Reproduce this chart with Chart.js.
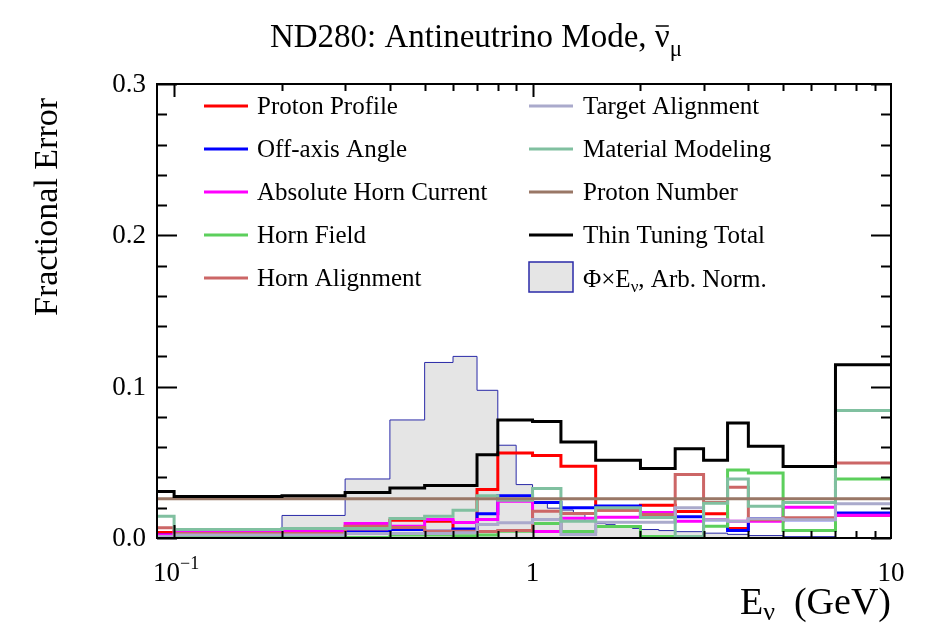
<!DOCTYPE html>
<html>
<head>
<meta charset="utf-8">
<script src="https://cdn.jsdelivr.net/npm/chart.js@4.4.0/dist/chart.umd.min.js"></script>
<style>
html, body { margin: 0; padding: 0; background: #fff; }
#wrap { width: 925px; height: 625px; }
</style>
</head>
<body>
<div id="wrap"><canvas id="c" width="925" height="625"></canvas></div>
<script>
// bin edges (GeV) of the systematic histograms, first bin starts off-axis
var binEdges = [0.05, 0.1, 0.2, 0.3, 0.4, 0.5, 0.6, 0.7, 0.8, 0.9, 1.0, 1.2, 1.5, 2.0, 2.5, 3.0, 3.5, 4.0, 5.0, 7.0, 10.0];

var protonProfile   = [0.0036, 0.0022, 0.0022, 0.0060, 0.0118, 0.0110, 0.0045, 0.0320, 0.0562, 0.0562, 0.0545, 0.0474, 0.0185, 0.0216, 0.0175, 0.0160, 0.0063, 0.0120, 0.0122, 0.0150];
var offAxisAngle    = [0.0020, 0.0022, 0.0022, 0.0040, 0.0056, 0.0045, 0.0060, 0.0160, 0.0280, 0.0280, 0.0234, 0.0200, 0.0212, 0.0150, 0.0140, 0.0120, 0.0050, 0.0127, 0.0120, 0.0166];
var hornCurrent     = [0.0020, 0.0045, 0.0045, 0.0096, 0.0078, 0.0122, 0.0102, 0.0122, 0.0243, 0.0243, 0.0043, 0.0130, 0.0137, 0.0168, 0.0110, 0.0122, 0.0110, 0.0110, 0.0203, 0.0150];
var hornField       = [0.0010, 0.0012, 0.0012, 0.0004, 0.0020, 0.0020, 0.0015, 0.0020, 0.0045, 0.0045, 0.0095, 0.0043, 0.0076, 0.0010, 0.0010, 0.0078, 0.0450, 0.0430, 0.0050, 0.0390];
var hornAlignment   = [0.0067, 0.0030, 0.0030, 0.0078, 0.0070, 0.0045, 0.0045, 0.0043, 0.0050, 0.0050, 0.0177, 0.0162, 0.0184, 0.0155, 0.0420, 0.0234, 0.0335, 0.0120, 0.0133, 0.0496];
var targetAlignment = [0.0010, 0.0020, 0.0020, 0.0030, 0.0030, 0.0030, 0.0035, 0.0089, 0.0100, 0.0100, 0.0122, 0.0023, 0.0104, 0.0104, 0.0200, 0.0120, 0.0110, 0.0127, 0.0120, 0.0226];
var materialModel   = [0.0144, 0.0056, 0.0063, 0.0063, 0.0129, 0.0144, 0.0184, 0.0280, 0.0250, 0.0250, 0.0327, 0.0110, 0.0200, 0.0135, 0.0010, 0.0230, 0.0390, 0.0210, 0.0234, 0.0843];
var protonNumber    = [0.0260, 0.0260, 0.0260, 0.0260, 0.0260, 0.0260, 0.0260, 0.0260, 0.0260, 0.0260, 0.0260, 0.0260, 0.0260, 0.0260, 0.0260, 0.0260, 0.0260, 0.0260, 0.0260, 0.0260];
var thinTuningTotal = [0.0307, 0.0274, 0.0280, 0.0300, 0.0331, 0.0347, 0.0347, 0.0550, 0.0780, 0.0780, 0.0769, 0.0635, 0.0513, 0.0459, 0.0590, 0.0514, 0.0760, 0.0606, 0.0472, 0.1145];

// flux x energy, arbitrary normalisation, finer binning
var fluxEdges  = [0.05, 0.1, 0.2, 0.3, 0.4, 0.5, 0.6, 0.7, 0.8, 0.9, 1.0, 1.1, 1.2, 1.3, 1.4, 1.5, 1.6, 1.7, 1.8, 1.9, 2.0, 2.25, 2.5, 3.0, 3.5, 4.0, 5.0, 7.0, 10.0];
var fluxValues = [0, 0, 0.0149, 0.0390, 0.0780, 0.1160, 0.1200, 0.0976, 0.0613, 0.0353, 0.0234, 0.0197, 0.0185, 0.0155, 0.0112, 0.0096, 0.0090, 0.0078, 0.0070, 0.0063, 0.0056, 0.0049, 0.0042, 0.0032, 0.0024, 0.0016, 0.0009, 0.0003];

var yTicks = [0.0, 0.1, 0.2, 0.3];
var yTickLabels = ['0.0', '0.1', '0.2', '0.3'];

var SERIF = '"Liberation Serif", "DejaVu Serif", serif';

function histPoints(edges, vals) {
    var pts = [];
    for (var i = 0; i < vals.length; i++) pts.push({ x: edges[i], y: vals[i] });
    pts.push({ x: edges[edges.length - 1], y: vals[vals.length - 1] });
    return pts;
}

var series = [
    { label: 'Proton Profile', data: protonProfile, color: '#ff0000' },
    { label: 'Off-axis Angle', data: offAxisAngle, color: '#0000ff' },
    { label: 'Absolute Horn Current', data: hornCurrent, color: '#ff00ff' },
    { label: 'Horn Field', data: hornField, color: '#5ccf5c' },
    { label: 'Horn Alignment', data: hornAlignment, color: '#cc6666' },
    { label: 'Target Alignment', data: targetAlignment, color: '#aaaacc' },
    { label: 'Material Modeling', data: materialModel, color: '#80c0a0' },
    { label: 'Proton Number', data: protonNumber, color: '#997766' },
    { label: 'Thin Tuning Total', data: thinTuningTotal, color: '#000000' }
];

var datasets = [{
    label: 'flux',
    data: histPoints(fluxEdges, fluxValues),
    stepped: 'before',
    borderColor: '#2a2aa8',
    borderWidth: 1,
    backgroundColor: '#e5e5e5',
    fill: 'origin',
    pointRadius: 0,
    order: 100
}];
series.forEach(function(s, i) {
    datasets.push({
        label: s.label,
        data: histPoints(binEdges, s.data),
        stepped: 'before',
        borderColor: s.color,
        borderWidth: 3,
        fill: false,
        pointRadius: 0,
        order: 50 - i
    });
});

function drawSubText(ctx, parts, x, y, align) {
    // parts: [text, size, dy]
    var total = 0;
    parts.forEach(function(p) { ctx.font = p[1] + 'px ' + SERIF; total += ctx.measureText(p[0]).width; });
    var cx = x;
    if (align === 'center') cx = x - total / 2;
    if (align === 'right') cx = x - total;
    var pos = [];
    parts.forEach(function(p) {
        ctx.font = p[1] + 'px ' + SERIF;
        ctx.fillText(p[0], cx, y + (p[2] || 0));
        var w = ctx.measureText(p[0]).width;
        pos.push([cx, w]);
        cx += w;
    });
    return pos;
}

var rootDecor = {
    id: 'rootDecor',
    afterDatasetsDraw: function(chart) {
        var ctx = chart.ctx, a = chart.chartArea;
        var xs = chart.scales.x, ys = chart.scales.y;
        ctx.save();
        ctx.strokeStyle = '#000';
        ctx.fillStyle = '#000';

        // y ticks, both sides, inside
        ctx.lineWidth = 2;
        for (var k = 0; k <= 15; k++) {
            var v = k * 0.02;
            var py = Math.round(ys.getPixelForValue(v)) + 0.5;
            var len = (k % 5 === 0) ? 20 : 10;
            ctx.beginPath();
            ctx.moveTo(a.left, py); ctx.lineTo(a.left + len, py);
            ctx.moveTo(a.right, py); ctx.lineTo(a.right - len, py);
            ctx.stroke();
        }
        // x ticks, log
        var decades = [0.1, 1];
        decades.forEach(function(d) {
            for (var m = 1; m <= 9; m++) {
                var e = d * m;
                var px = Math.round(xs.getPixelForValue(e)) + 0.5;
                var len = (m === 1) ? 13 : 7;
                ctx.beginPath();
                ctx.moveTo(px, a.bottom); ctx.lineTo(px, a.bottom - len);
                ctx.moveTo(px, a.top); ctx.lineTo(px, a.top + len);
                ctx.stroke();
            }
        });

        // frame
        ctx.lineWidth = 2;
        ctx.strokeRect(a.left, a.top, a.right - a.left, a.bottom - a.top);

        // y tick labels
        ctx.textBaseline = 'middle';
        ctx.textAlign = 'right';
        ctx.font = '27px ' + SERIF;
        yTicks.forEach(function(v, i) {
            ctx.fillText(yTickLabels[i], 146, ys.getPixelForValue(v) + 1);
        });

        // x tick labels
        ctx.textBaseline = 'alphabetic';
        ctx.textAlign = 'left';
        var xb = 581;
        drawSubText(ctx, [['10', 27, 0], ['\u22121', 18, -12]], xs.getPixelForValue(0.1) + 2, xb, 'center');
        drawSubText(ctx, [['1', 27, 0]], xs.getPixelForValue(1), xb, 'center');
        drawSubText(ctx, [['10', 27, 0]], xs.getPixelForValue(10), xb, 'center');

        // axis titles
        drawSubText(ctx, [['E', 38, 0], ['\u03bd', 26, 6], ['  (GeV)', 38, 0]], a.right, 614, 'right');
        ctx.save();
        ctx.translate(57, 316);
        ctx.rotate(-Math.PI / 2);
        ctx.font = '34px ' + SERIF;
        ctx.textAlign = 'left';
        ctx.fillText('Fractional Error', 0, 0);
        ctx.restore();

        // title
        var tpos = drawSubText(ctx, [['ND280: Antineutrino Mode, ', 33, 0], ['\u03bd', 33, 0], ['\u03bc', 23, 9]], 476, 47, 'center');
        ctx.lineWidth = 1.5;
        ctx.beginPath();
        ctx.moveTo(tpos[1][0] + 1, 26);
        ctx.lineTo(tpos[1][0] + tpos[1][1] - 1, 26);
        ctx.stroke();

        // legend, two columns
        var rowsY = [106, 149, 192, 235, 278];
        ctx.textBaseline = 'middle';
        series.forEach(function(s, i) {
            var col = i < 5 ? 0 : 1;
            var row = i < 5 ? i : i - 5;
            var lx = col === 0 ? 204 : 529;
            var tx = col === 0 ? 257 : 583;
            var ly = rowsY[row];
            ctx.strokeStyle = s.color;
            ctx.lineWidth = 3;
            ctx.beginPath();
            ctx.moveTo(lx, ly); ctx.lineTo(lx + 44, ly);
            ctx.stroke();
            ctx.fillStyle = '#000';
            ctx.font = '25px ' + SERIF;
            ctx.fillText(s.label, tx, ly + 1);
        });
        // flux legend entry
        ctx.fillStyle = '#e5e5e5';
        ctx.fillRect(529, 262, 44, 30);
        ctx.strokeStyle = '#2a2aa8';
        ctx.lineWidth = 1.5;
        ctx.strokeRect(529, 262, 44, 30);
        ctx.fillStyle = '#000';
        ctx.textBaseline = 'alphabetic';
        drawSubText(ctx, [['\u03a6\u00d7E', 25, 0], ['\u03bd', 17, 5], [', Arb. Norm.', 25, 0]], 583, 287, 'left');

        ctx.restore();
    }
};

new Chart(document.getElementById('c'), {
    type: 'line',
    data: { datasets: datasets },
    options: {
        responsive: false,
        animation: false,
        devicePixelRatio: 1,
        layout: { padding: { left: 157, right: 34, top: 84, bottom: 87 } },
        scales: {
            x: { type: 'logarithmic', min: 0.0896, max: 10, display: false },
            y: { type: 'linear', min: 0, max: 0.3, display: false }
        },
        plugins: { legend: { display: false }, tooltip: { enabled: false } }
    },
    plugins: [rootDecor]
});
</script>
</body>
</html>
